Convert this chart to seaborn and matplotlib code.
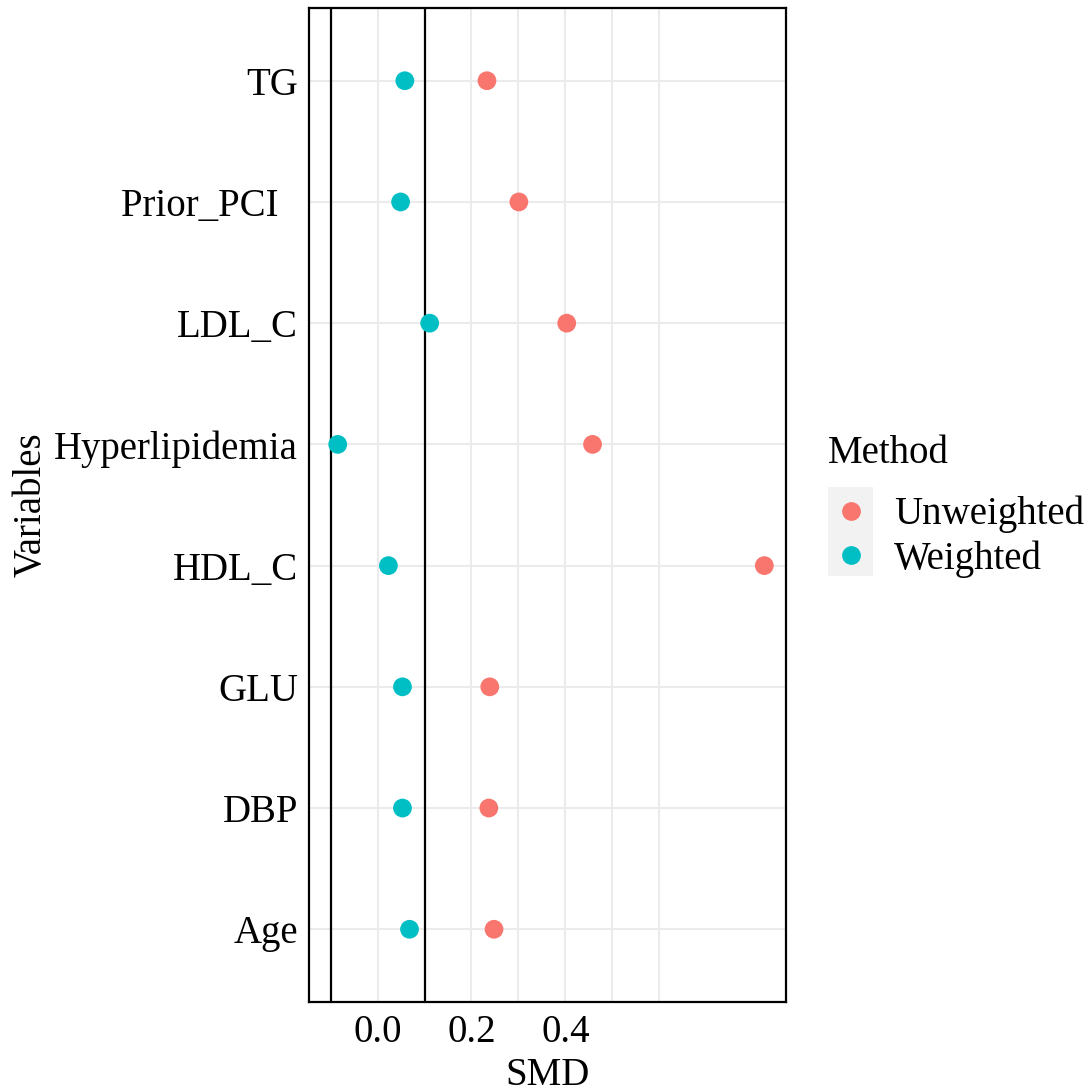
import numpy as np
import pandas as pd
import matplotlib
matplotlib.use('Agg')
import matplotlib.pyplot as plt
from matplotlib.lines import Line2D
from matplotlib.patches import Rectangle
from matplotlib.ticker import FixedLocator
import seaborn as sns

# Data
variables = ['TG', 'Prior_PCI  ', 'LDL_C', 'Hyperlipidemia', 'HDL_C', 'GLU', 'DBP', 'Age']
unweighted = [0.233, 0.301, 0.403, 0.458, 0.824, 0.239, 0.237, 0.248]
weighted = [0.058, 0.049, 0.111, -0.085, 0.023, 0.053, 0.053, 0.068]
methods = ['Unweighted', 'Weighted']
colors = ['#F8766D', '#00BFC4']
x_ticks = [0.0, 0.2, 0.4]
thresholds = [-0.1, 0.1]

df = pd.DataFrame({
    'Variables': variables * 2,
    'SMD': unweighted + weighted,
    'Method': [methods[0]] * len(variables) + [methods[1]] * len(variables),
})

sns.set_style('white')
plt.rcParams['font.family'] = ['Liberation Serif', 'DejaVu Serif']
plt.rcParams['text.color'] = 'black'
plt.rcParams['axes.labelcolor'] = 'black'
fs = 28

W, H = 1088, 1092
fig = plt.figure(figsize=(W / 100, H / 100), dpi=100)
ax = fig.add_axes([309 / W, 1 - 1002 / H, (786 - 309) / W, (1002 - 8) / H])

sns.stripplot(data=df, x='SMD', y='Variables', hue='Method', order=variables,
              hue_order=methods, palette=colors, jitter=False, size=13.5,
              linewidth=0, ax=ax, legend=False, zorder=4)

for t in thresholds:
    ax.axvline(t, color='black', lw=1.6, zorder=3)

# ggplot style 5% expansion on continuous axis, 0.6 on discrete
lo = min(min(weighted), min(unweighted), min(thresholds))
hi = max(max(weighted), max(unweighted), max(thresholds))
pad = (hi - lo) * 0.05
ax.set_xlim(lo - pad, hi + pad)
ax.set_ylim(len(variables) - 1 + 0.6, -0.6)

ax.set_xticks(x_ticks)
ax.set_xticklabels([f'{v:.1f}' for v in x_ticks])
ax.xaxis.set_minor_locator(FixedLocator([-0.1, 0.1, 0.3, 0.5, 0.6]))
ax.grid(True, which='major', color='#EBEBEB', lw=1.5, zorder=0)
ax.grid(True, which='minor', axis='x', color='#EBEBEB', lw=1.5, zorder=0)
ax.set_axisbelow(True)

ax.tick_params(axis='both', which='major', labelsize=fs, length=5, width=1.2,
               color='#333333', labelcolor='black', direction='out')
ax.tick_params(axis='x', which='major', pad=4)
ax.tick_params(axis='y', which='major', pad=3)
ax.tick_params(axis='x', which='minor', length=0)

for s in ax.spines.values():
    s.set_color('black')
    s.set_linewidth(1.6)

ax.set_xlabel('SMD', fontsize=fs, labelpad=4)
ax.set_ylabel('Variables', fontsize=fs, labelpad=3)

# legend: title as its own text, keys on a grey strip like ggplot
fig.text(828 / W, 1 - 453 / H, 'Method', fontsize=fs, ha='left', va='center')
fig.patches.append(Rectangle((828 / W, 1 - 576 / H), 45 / W, 89 / H,
                             transform=fig.transFigure, facecolor='#F2F2F2',
                             edgecolor='none', zorder=0))
handles = [Line2D([0], [0], marker='o', linestyle='none', markersize=13.5,
                  markerfacecolor=c, markeredgewidth=0) for c in colors]
leg = fig.legend(handles, methods, loc='upper left',
                 bbox_to_anchor=(828 / W, 1 - 496 / H), borderaxespad=0,
                 borderpad=0, frameon=False, fontsize=fs,
                 handlelength=1.2, handletextpad=0.5, labelspacing=0.18)

fig.savefig('out.png', dpi=100)
